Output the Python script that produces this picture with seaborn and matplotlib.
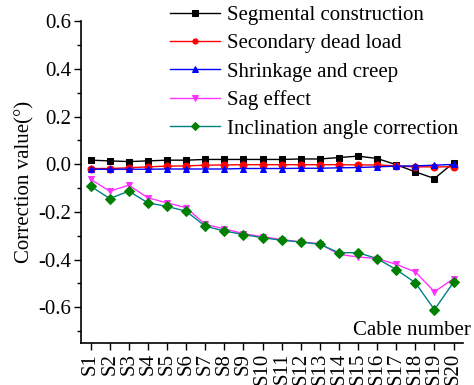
import matplotlib
matplotlib.use("Agg")
import matplotlib.pyplot as plt
import seaborn as sns
import pandas as pd
import numpy as np
from matplotlib.ticker import MultipleLocator
from matplotlib.font_manager import FontProperties

cables = [f"S{i}" for i in range(1, 21)]
segmental = [0.017, 0.014, 0.011, 0.014, 0.017, 0.017, 0.020, 0.020, 0.020, 0.020,
             0.020, 0.022, 0.022, 0.028, 0.034, 0.024, -0.002, -0.032, -0.060, 0.006]
secondary = [-0.018, -0.018, -0.015, -0.011, -0.008, -0.007, -0.004, -0.003, -0.002, -0.002,
             -0.002, -0.002, -0.002, -0.002, -0.003, -0.003, -0.007, -0.011, -0.011, -0.011]
shrinkage = [-0.021, -0.021, -0.021, -0.021, -0.020, -0.020, -0.020, -0.020, -0.018, -0.018,
             -0.018, -0.017, -0.017, -0.015, -0.014, -0.011, -0.008, -0.007, -0.004, -0.001]
sag = [-0.063, -0.113, -0.088, -0.141, -0.162, -0.182, -0.252, -0.271, -0.291, -0.304,
       -0.316, -0.326, -0.333, -0.378, -0.389, -0.396, -0.420, -0.452, -0.535, -0.480]
inclination = [-0.092, -0.144, -0.113, -0.162, -0.177, -0.197, -0.260, -0.280, -0.295, -0.308,
               -0.319, -0.326, -0.336, -0.371, -0.371, -0.396, -0.442, -0.497, -0.610, -0.495]

series = [
    ("Segmental construction", segmental, "black", "black", "s"),
    ("Secondary dead load", secondary, "red", "red", "o"),
    ("Shrinkage and creep", shrinkage, "blue", "blue", "^"),
    ("Sag effect", sag, "#ff33ff", "#ff33ff", "v"),
    ("Inclination angle correction", inclination, "#008080", "#008000", "D"),
]

FAM = ["Liberation Serif", "DejaVu Serif"]
FS = 15
fp = FontProperties(family=FAM, size=FS)
plt.rcParams['font.family'] = FAM

fig = plt.figure(figsize=(4.74, 3.85), dpi=100)
ax = fig.add_axes([0.171, 0.109, 0.806, 0.836])

x = np.arange(len(cables))
for name, vals, lc, mc, mk in series:
    df = pd.DataFrame({"x": x, "y": vals})
    sns.lineplot(data=df, x="x", y="y", ax=ax, color=lc, marker=mk,
                 markerfacecolor=mc, markeredgecolor=mc, markersize=5,
                 linewidth=1.0, label=name)

ax.set_xlim(-0.5, 19.5)
ax.set_ylim(-0.75, 0.6)
ax.set_xticks(x)
ax.set_xticklabels(cables, rotation=90, fontproperties=fp)
ax.set_yticks([-0.6, -0.4, -0.2, 0.0, 0.2, 0.4, 0.6])
ax.set_yticklabels(["-0.6", "-0.4", "-0.2", "0.0", "0.2", "0.4", "0.6"], fontproperties=fp)
ax.yaxis.set_minor_locator(MultipleLocator(0.1))
ax.tick_params(axis='both', which='major', direction='out', length=5, width=1, pad=2)
ax.tick_params(axis='y', which='minor', direction='out', length=3, width=1)
ax.spines['top'].set_visible(False)
ax.spines['right'].set_visible(False)
for s in ['left', 'bottom']:
    ax.spines[s].set_linewidth(1.2)
ax.set_xlabel("")
ax.set_ylabel("Correction value(°)", fontproperties=fp, labelpad=3)
ax.text(1.02, 0.01, "Cable number", transform=ax.transAxes, ha="right", va="bottom",
        fontproperties=fp)

leg = ax.legend(loc="upper right", bbox_to_anchor=(1.008, 1.075), frameon=False, prop=fp,
                handlelength=2.4, labelspacing=0.42, handletextpad=0.3, borderaxespad=0.0,
                borderpad=0.4, markerscale=0.75)

fig.savefig("out.png", dpi=100)
